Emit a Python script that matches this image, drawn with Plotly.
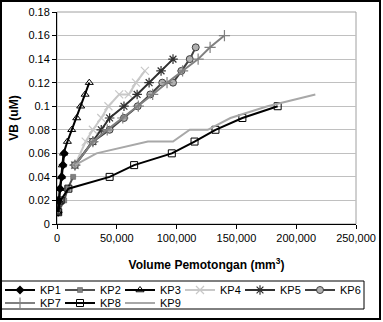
import plotly.graph_objects as go

# ---- data ----
kp1_x = [1000, 1500, 2500, 4000, 5000, 6000]
kp1_y = [0.01, 0.02, 0.03, 0.04, 0.05, 0.06]

kp2_x = [1000, 6000, 9000, 13500]
kp2_y = [0.01, 0.02, 0.03, 0.04]

kp3_x = [500, 1500, 2500, 3500, 4500, 5500, 8700, 12300, 16500, 19800, 23500, 27000]
kp3_y = [0.01, 0.02, 0.03, 0.04, 0.05, 0.06, 0.07, 0.08, 0.09, 0.10, 0.11, 0.12]

kp4_x = [15000, 24000, 30000, 37000, 43000, 52000, 60000, 66000, 73500]
kp4_y = [0.05, 0.07, 0.08, 0.09, 0.10, 0.11, 0.11, 0.12, 0.13]

kp5_x = [15000, 30000, 37000, 44000, 56000, 67000, 77000, 87000, 97000]
kp5_y = [0.05, 0.07, 0.08, 0.09, 0.10, 0.11, 0.12, 0.13, 0.14]

kp6_x = [15000, 30000, 44000, 56000, 67500, 78000, 88000, 97000, 104000, 111000, 116000]
kp6_y = [0.05, 0.07, 0.08, 0.09, 0.10, 0.11, 0.12, 0.12, 0.13, 0.14, 0.15]

kp7_x = [15000, 30000, 42000, 55000, 68000, 80000, 92000, 105000, 118000, 128000, 140000]
kp7_y = [0.05, 0.07, 0.08, 0.09, 0.10, 0.11, 0.12, 0.13, 0.14, 0.15, 0.16]

kp8_x = [1000, 3000, 9500, 44000, 64500, 96000, 115000, 132500, 155000, 184500]
kp8_y = [0.01, 0.02, 0.03, 0.04, 0.05, 0.06, 0.07, 0.08, 0.09, 0.10]

kp9_x = [15000, 33000, 76000, 97000, 111000, 126000, 145000, 176000, 216000]
kp9_y = [0.05, 0.06, 0.07, 0.07, 0.08, 0.08, 0.09, 0.10, 0.11]

x_ticks = [0, 50000, 100000, 150000, 200000, 250000]
y_ticks = [0, 0.02, 0.04, 0.06, 0.08, 0.10, 0.12, 0.14, 0.16, 0.18]

series = [
    ("KP1", kp1_x, kp1_y, "#000000", dict(symbol="diamond", size=7, color="#000000"), "legend", 15),
    ("KP2", kp2_x, kp2_y, "#505050", dict(symbol="square", size=5, color="#808080", line=dict(color="#505050", width=0.5)), "legend", 15),
    ("KP3", kp3_x, kp3_y, "#000000", dict(symbol="triangle-up-open", size=7, color="#000000", line=dict(width=1)), "legend", 15),
    ("KP4", kp4_x, kp4_y, "#c8c8c8", dict(symbol="x-thin-open", size=8, color="#c8c8c8", line=dict(width=1.2, color="#c8c8c8")), "legend", 15),
    ("KP5", kp5_x, kp5_y, "#303030", dict(symbol="asterisk-open", size=8, color="#303030", line=dict(width=1.2, color="#303030")), "legend", 15),
    ("KP6", kp6_x, kp6_y, "#404040", dict(symbol="circle", size=7, color="#b0b0b0", line=dict(width=1, color="#404040")), "legend", 22),
    ("KP7", kp7_x, kp7_y, "#808080", dict(symbol="cross-thin-open", size=8, color="#808080", line=dict(width=1.2, color="#808080")), "legend2", 15),
    ("KP8", kp8_x, kp8_y, "#000000", dict(symbol="square-open", size=7, color="#000000", line=dict(width=1)), "legend2", 15),
    ("KP9", kp9_x, kp9_y, "#a8a8a8", None, "legend2", 22),
]

fig = go.Figure()
for name, xs, ys, col, mk, lg, lw in series:
    if mk is None:
        fig.add_trace(go.Scatter(x=xs, y=ys, name=name, mode="lines", legend=lg, legendwidth=lw,
                                 line=dict(color=col, width=2)))
    else:
        fig.add_trace(go.Scatter(x=xs, y=ys, name=name, mode="lines+markers", legend=lg, legendwidth=lw,
                                 line=dict(color=col, width=2), marker=mk))

W, H = 383, 322
L, R, T, B = 57, 0, 12, 98
PLOT_RIGHT = 356
pw, ph = W - L - R, H - T - B

def px(xp):
    return (xp - L) / pw

def py(yp):
    return (H - B - yp) / ph

font = "Liberation Sans, Arial, sans-serif"
leg_common = dict(orientation="h", xanchor="left", yanchor="top",
                  borderwidth=0, bgcolor="rgba(0,0,0,0)",
                  font=dict(size=11), entrywidthmode="pixels",
                  tracegroupgap=0, itemwidth=30)
fig.update_layout(
    width=W, height=H,
    margin=dict(l=L, r=R, t=T, b=B, pad=0, autoexpand=False),
    paper_bgcolor="white", plot_bgcolor="white",
    font=dict(family=font, size=11, color="black"),
    showlegend=True,
    legend=dict(x=px(0), y=py(275.5), **leg_common),
    legend2=dict(x=px(0), y=py(288.5), **leg_common),
    xaxis=dict(range=[0, 250000], domain=[0, (PLOT_RIGHT - L) / pw], tickvals=x_ticks, tickformat=",",
               automargin=False,
               showgrid=False, zeroline=False, showline=True, linecolor="black", linewidth=1,
               ticks="outside", ticklen=4, tickcolor="black",
               title=dict(text="<b>Volume Pemotongan (mm<sup>3</sup>)</b>", font=dict(size=12), standoff=17)),
    yaxis=dict(range=[0, 0.18], tickvals=y_ticks, ticktext=[("%g" % v) for v in y_ticks],
               automargin=False,
               showgrid=True, gridcolor="#c0c0c0", gridwidth=1, zeroline=False,
               showline=True, linecolor="black", linewidth=1,
               ticks="outside", ticklen=4, tickcolor="black",
               title=dict(text="<b>VB (uM)</b>", font=dict(size=12), standoff=7)),
    shapes=[
        dict(type="rect", xref="x domain", yref="y domain", x0=0, x1=1, y0=0, y1=1,
             line=dict(color="#a0a0a0", width=1), layer="below"),
        dict(type="rect", xref="paper", yref="paper", x0=px(0.5), x1=px(364), y0=py(309), y1=py(281),
             line=dict(color="black", width=1)),
        dict(type="rect", xref="paper", yref="paper", x0=px(1), x1=px(380), y0=py(319), y1=py(1),
             line=dict(color="black", width=2)),
    ],
)

fig.write_html("out.html")
